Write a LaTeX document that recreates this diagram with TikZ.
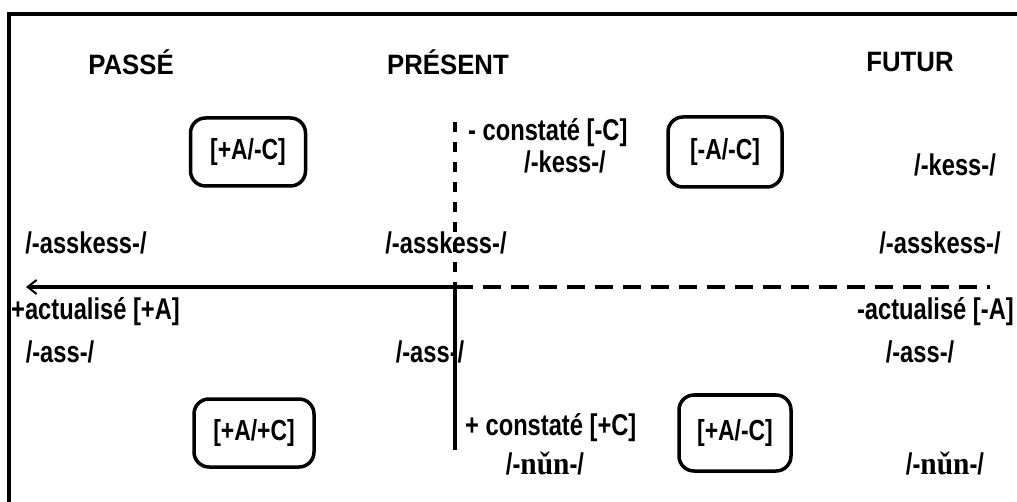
\documentclass[tikz,border=0pt]{standalone}
\usepackage{fontspec}
\setmainfont{Liberation Sans}[FakeStretch=0.79]
\newfontfamily\headfont{Liberation Sans}[FakeStretch=0.92]
\newfontfamily\nunserif{Liberation Serif}[FakeStretch=0.92]
\usetikzlibrary{arrows.meta}
\tikzset{
  lbl/.style={font=\fontsize{30bp}{32bp}\selectfont\bfseries, inner sep=0pt},
  head/.style={font=\headfont\fontsize{28bp}{32bp}\selectfont\bfseries, inner sep=0pt},
  featbox/.style={draw, line width=3.5bp, rounded corners=15bp, inner sep=0pt,
    font=\fontsize{29bp}{30bp}\selectfont\bfseries},
  axis/.style={line width=3.5bp},
}
\newcommand{\nun}{{\nunserif\fontsize{32bp}{32bp}\selectfont n\v{u}n}}
\begin{document}
\begin{tikzpicture}[x=1bp,y=-1bp]
\useasboundingbox (0,0) rectangle (1017,502);
% frame
\coordinate (fTL) at (9,14);
\coordinate (fTR) at (1017,14);
\coordinate (fBL) at (9,502);
\draw[line width=4bp] (fTR) -- (fTL) -- (fBL);
% headings
\node[head] (passe) at (131,62) {PASSÉ};
\node[head] (present) at (448,62) {PRÉSENT};
\node[head] (futur) at (910,62) {FUTUR};
% boxes
\node[featbox, minimum width=115bp, minimum height=68bp] (b1) at (248,152) {[+A/-C]};
\node[featbox, minimum width=114bp, minimum height=70bp] (b2) at (725,152) {[-A/-C]};
\node[featbox, minimum width=120bp, minimum height=68bp] (b3) at (254,433) {[+A/+C]};
\node[featbox, minimum width=112bp, minimum height=76bp] (b4) at (735,433) {[+A/-C]};
% axes
\coordinate (O) at (455,287);
\coordinate (L) at (26,287);
\coordinate (R) at (990,287);
\coordinate (T) at (455,122);
\coordinate (B) at (455,450);
\draw[axis, dash pattern=on 10bp off 10bp] (T) -- (O);
\draw[axis] (O) -- (B);
\draw[axis, dash pattern=on 18bp off 10bp] (O) -- (R);
\draw[axis, -{Straight Barb[length=9bp,width=14bp,line width=2bp]}] (O) -- (L);
% labels
\node[lbl, anchor=west] (cneg) at (468,133) {- constaté [-C]};
\node[lbl] (kess1) at (565,162) {/-kess-/};
\node[lbl] (kess2) at (955,165) {/-kess-/};
\node[lbl] (ak1) at (86,243) {/-asskess-/};
\node[lbl] (ak2) at (446,243) {/-asskess-/};
\node[lbl] (ak3) at (940,243) {/-asskess-/};
\node[lbl, anchor=west] (apos) at (11,312) {+actualisé [+A]};
\node[lbl, anchor=east] (aneg) at (1014,312) {-actualisé [-A]};
\node[lbl] (as1) at (60,352) {/-ass-/};
\node[lbl] (as2) at (430,352) {/-ass-/};
\node[lbl] (as3) at (920,352) {/-ass-/};
\node[lbl, anchor=west] (cpos) at (465,428) {+ constaté [+C]};
\node[lbl] (nun1) at (545,464) {/-\nun-/};
\node[lbl] (nun2) at (945,464) {/-\nun-/};
\end{tikzpicture}
\end{document}
